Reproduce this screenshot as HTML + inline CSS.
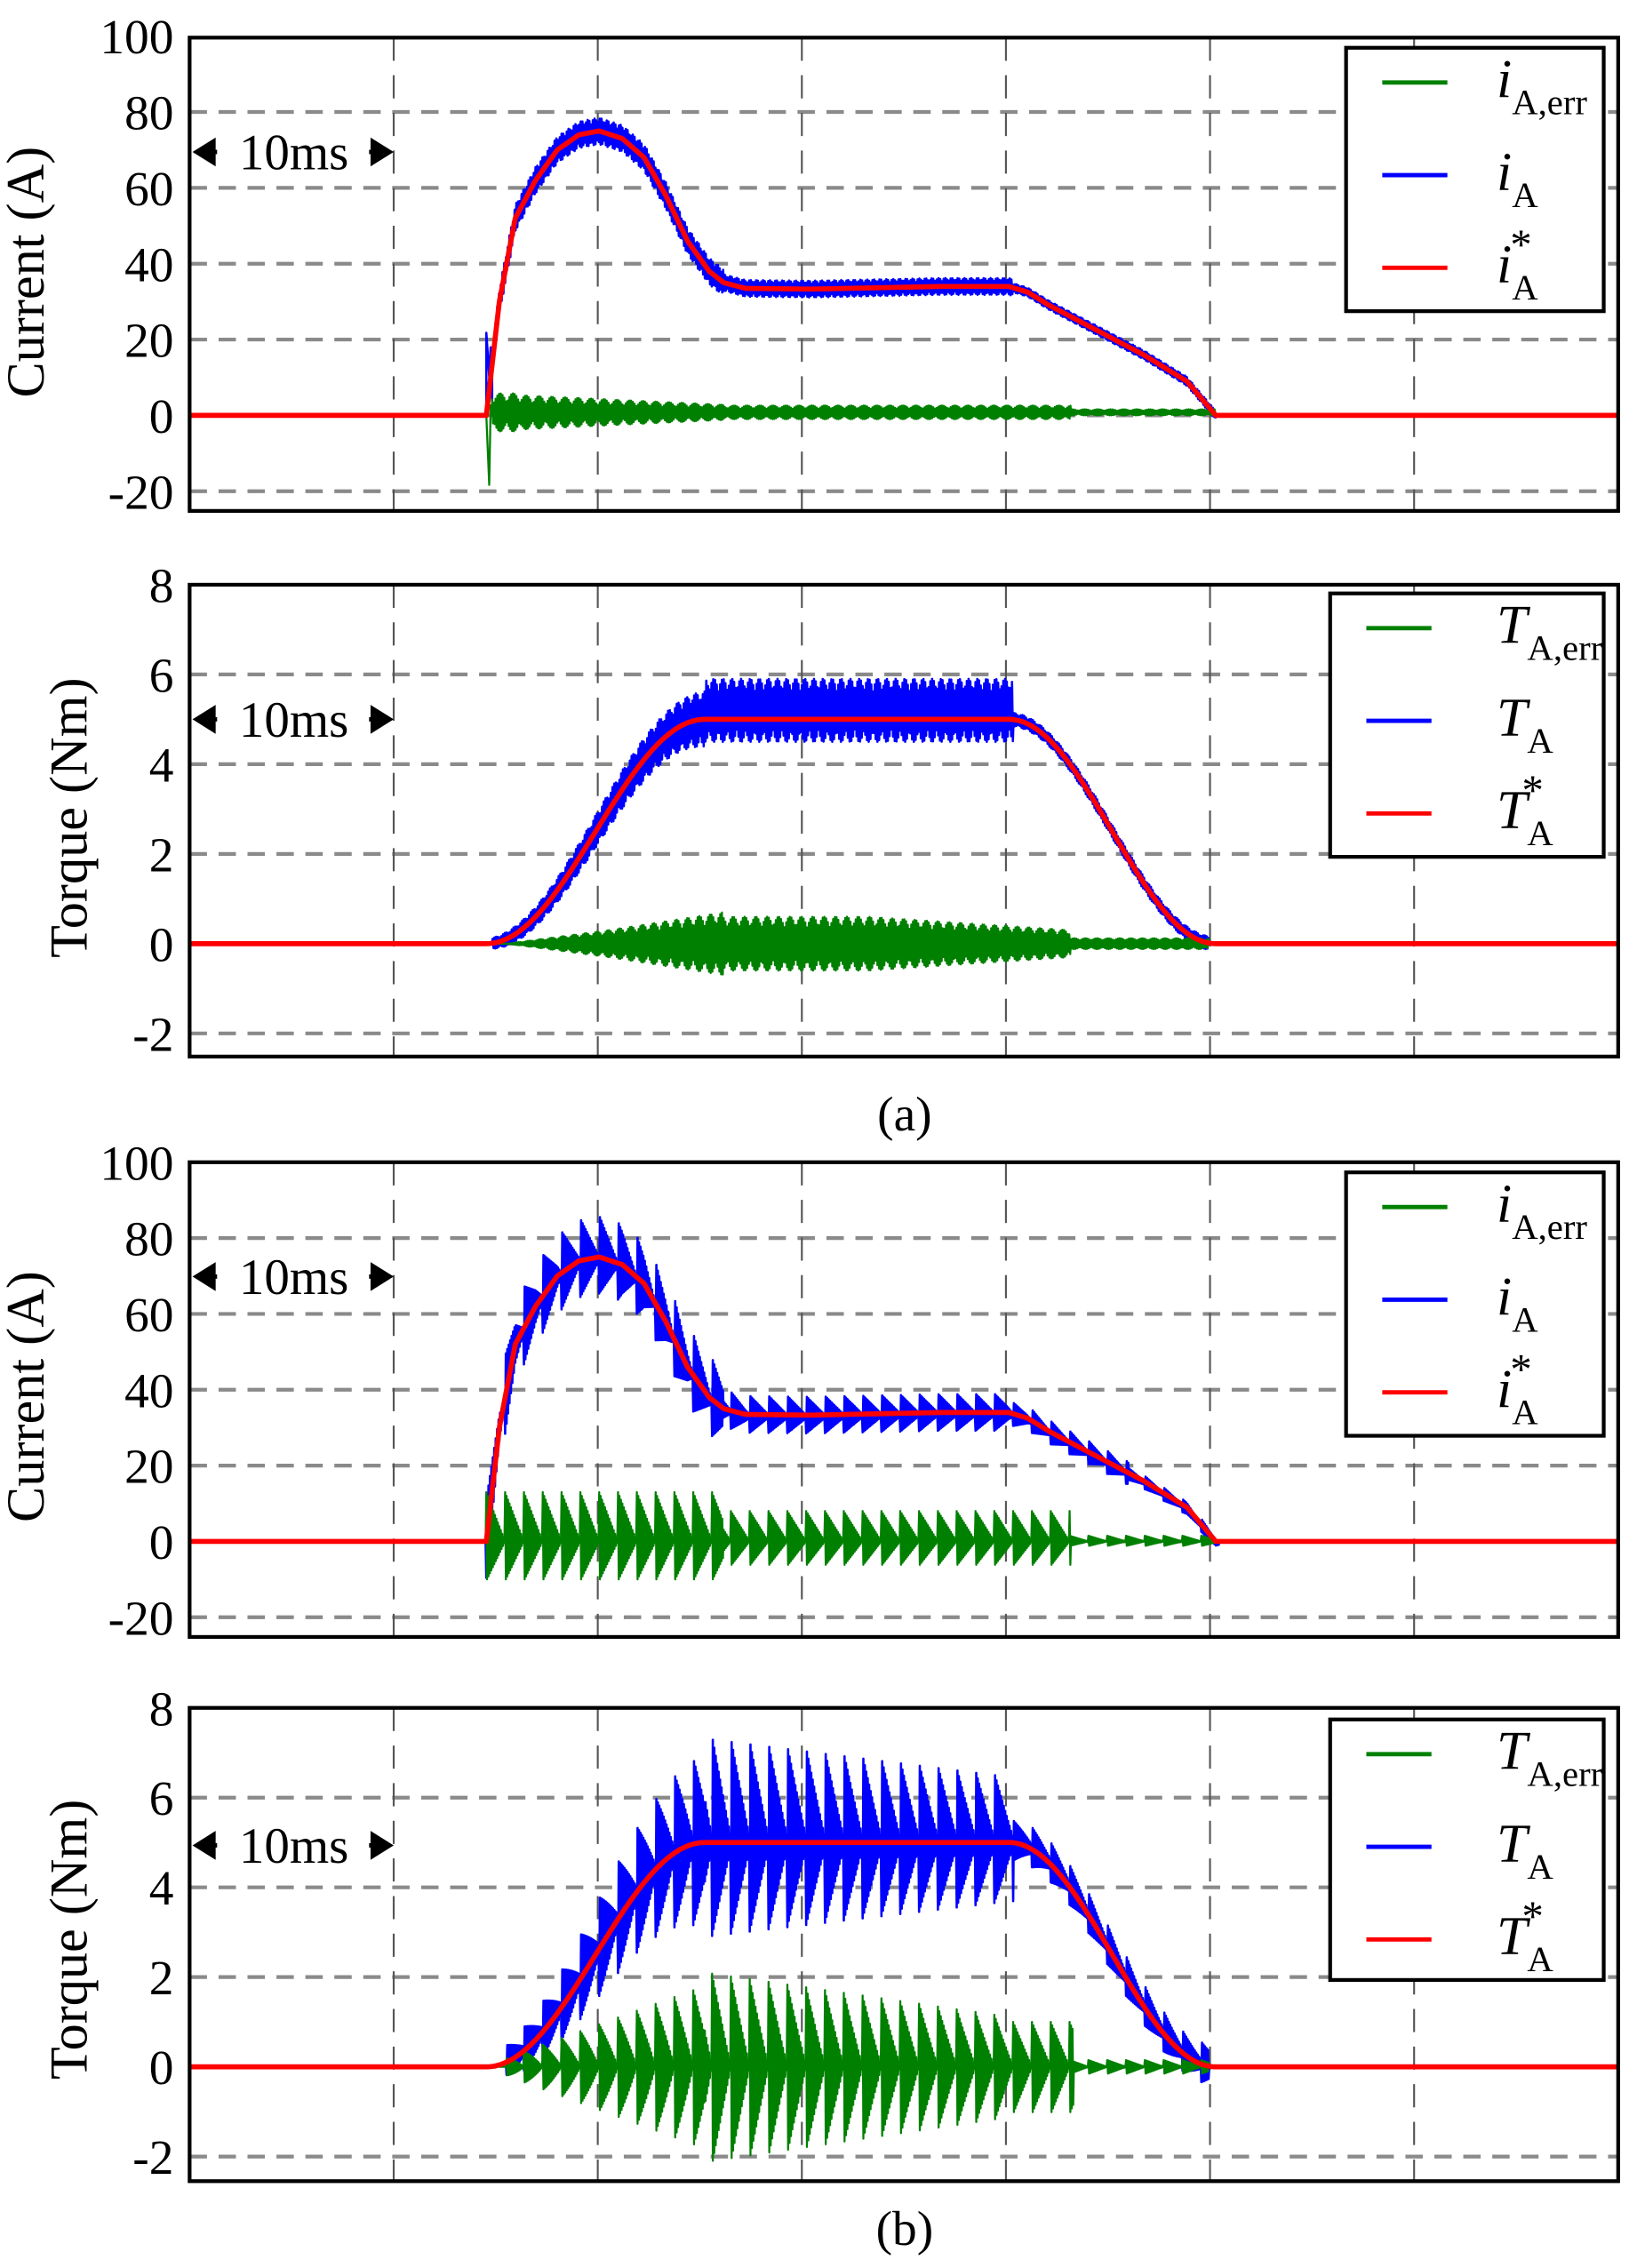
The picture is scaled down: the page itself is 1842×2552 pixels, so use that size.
<!DOCTYPE html>
<html><head><meta charset="utf-8"><style>
html,body{margin:0;padding:0;background:#fff;}
svg{display:block;}
text{font-family:"Liberation Serif",serif;fill:#000;}
</style></head><body>
<svg id="s" width="1842" height="2552" viewBox="0 0 1131 1567" preserveAspectRatio="none" xmlns="http://www.w3.org/2000/svg">
<rect width="1131" height="1567" fill="#fff"/>
<g id="g"></g>
</svg>
<script>
var NS="http://www.w3.org/2000/svg",G=document.getElementById('g');
function el(t,a,p){var e=document.createElementNS(NS,t);for(var k in a)e.setAttribute(k,a[k]);(p||G).appendChild(e);return e;}
function txt(s,a,p){var e=el('text',a,p);e.textContent=s;return e;}
var XL=131,XR=1118,GX=[272,413,554,695,836,977];
function interp(pts,x){if(x<=pts[0][0])return pts[0][1];for(var i=1;i<pts.length;i++){if(x<=pts[i][0]){var a=pts[i-1],b=pts[i],t=(x-a[0])/(b[0]-a[0]);return a[1]+(b[1]-a[1])*t;}}return pts[pts.length-1][1];}
var IP=[[336,0],[345,30],[356,52],[370,62],[385,70],[400,74],[414,75],[430,73],[445,68],[460,58],[475,46],[490,38],[500,35],[515,33.5],[560,33.3],[650,34],[697,34],[710,32.5],[725,29],[760,22],[790,16],[820,9],[840,0]];
function refI(x){return (x<336||x>840)?0:interp(IP,x);}
function refT(x){if(x<336||x>840)return 0;if(x<487){var t=(x-336)/151;return 2.5*(1-Math.cos(Math.PI*t));}if(x<=697)return 5;var t=(x-697)/143;return 2.5*(1+Math.cos(Math.PI*t));}
function frac(x,p){var f=((x-336)/p)%1;if(f<0)f+=1;return f;}
var K=0;
function alt(){K++;return (K%2)?1:-1;}
function pathOf(f,Y,x0,x1,st){var d='';for(var x=x0;x<=x1+1e-9;x+=st){d+=(d?'L':'M')+x.toFixed(2)+' '+Y(f(x)).toFixed(2);}return d;}
var cid=0;
function panel(top0,bot,Y,ticks,ylab,ylx,yly,arrowY,leg,sym,series){
  var id='c'+(cid++);
  var cp=el('clipPath',{id:id});el('rect',{x:XL,y:top0,width:XR-XL,height:bot-top0},cp);
  ticks.forEach(function(v){var y=Y(v);if(y>top0+3&&y<bot-3)el('line',{x1:XL,x2:XR,y1:y,y2:y,stroke:'#8a8a8a','stroke-width':2.6,'stroke-dasharray':'12 8'});
    txt(String(v),{x:120,y:y+12,'font-size':34,'text-anchor':'end'});});
  GX.forEach(function(x){el('line',{x1:x,x2:x,y1:top0,y2:bot,stroke:'#555','stroke-width':1.3,'stroke-dasharray':'16 10'});});
  var g=el('g',{'clip-path':'url(#'+id+')'});
  series.forEach(function(s){el('path',{d:s.d,fill:'none',stroke:s.c,'stroke-width':s.w,'stroke-linejoin':'round'},g);});
  el('rect',{x:XL,y:top0,width:XR-XL,height:bot-top0,fill:'none',stroke:'#000','stroke-width':2.6});
  txt(ylab,{x:ylx,y:yly,'font-size':37,'text-anchor':'middle',transform:'rotate(-90 '+ylx+' '+yly+')'});
  el('line',{x1:XL+8,x2:150,y1:arrowY,y2:arrowY,stroke:'#000','stroke-width':3});
  el('line',{x1:255,x2:264,y1:arrowY,y2:arrowY,stroke:'#000','stroke-width':3});
  el('path',{d:'M'+(XL+2)+' '+arrowY+'l16 -10v20z',fill:'#000'});
  el('path',{d:'M272 '+arrowY+'l-16 -10v20z',fill:'#000'});
  txt('10ms',{x:203,y:arrowY+12,'font-size':35,'text-anchor':'middle'});
  el('rect',{x:leg[0],y:leg[1],width:1108-leg[0],height:leg[2]-leg[1],fill:'#fff',stroke:'#000','stroke-width':2.6});
  var cols=['#008000','#0000ff','#ff0000'],subs=['A,err','A','A'];
  for(var i=0;i<3;i++){var ly=leg[1]+24+i*64;
    el('line',{x1:leg[0]+25,x2:leg[0]+70,y1:ly,y2:ly,stroke:cols[i],'stroke-width':3});
    var tx=1034;
    var te=txt('',{x:tx,y:ly+10,'font-size':38});
    var a=document.createElementNS(NS,'tspan');a.setAttribute('font-style','italic');a.textContent=sym;te.appendChild(a);
    var b=document.createElementNS(NS,'tspan');b.setAttribute('font-size','25');b.setAttribute('dy','12');b.textContent=subs[i];te.appendChild(b);
    if(i==2){txt('*',{x:tx+(sym=='i'?8:16),y:ly-6,'font-size':30,'font-style':'italic'});}
  }
}
var Y1=function(v){return 287-v*2.62},Y3=function(v){return 1065-v*2.62},Y2=function(v){return 652-31*v},Y4=function(v){return 1428-31*v};
function envGa(x){if(x<336||x>840)return 0;if(x<360)return 5;if(x<500)return 4.5-2.5*(x-360)/140;if(x<740)return 1.8;return 0.8;}
var p1=[
 {c:'#0000ff',w:1.6,d:'M336 287L336 230L338 260L339 240L340 277'+pathOf(function(x){var a=x<500?3.5:(x<700?2.2:1.2);return refI(x)+a*alt()*(0.6+0.4*Math.abs(Math.sin(x*0.7)));},Y1,340,840,0.6).replace('M','L')},
 {c:'#008000',w:1.4,d:'M336 287L338 335L339 280L340 287'+pathOf(function(x){return 0.8+envGa(x)*alt()*(0.5+0.5*Math.abs(Math.sin(x*0.35)));},Y1,340,840,0.6).replace('M','L')},
 {c:'#ff0000',w:3.5,d:pathOf(refI,Y1,131,1118,1)}
];
panel(26,353,Y1,[100,80,60,40,20,0,-20],'Current (A)',30,188,105,[930,33,215],'i',p1);
function envTa(x){if(x<350||x>835)return 0;if(x<420)return 0.3*(x-350)/70;if(x<500)return 0.3+0.4*(x-420)/80;if(x<600)return 0.6;if(x<740)return 0.6-0.3*(x-600)/140;return 0.12;}
var p2=[
 {c:'#0000ff',w:1.6,d:pathOf(function(x){var r=refT(x);if(x<340||x>835)return r;var a=x<487?0.12+0.5*(x-340)/147:(x<=700?0.7:0.15);var o=(x>487&&x<700)?0.2:0;return r+o+a*alt()*(0.6+0.4*Math.abs(Math.sin(x*0.5)));},Y2,131,1118,0.6)},
 {c:'#008000',w:1.4,d:pathOf(function(x){return envTa(x)*alt()*(0.6+0.4*Math.abs(Math.sin(x*0.4)));},Y2,131,1118,0.6)},
 {c:'#ff0000',w:3.5,d:pathOf(refT,Y2,131,1118,1)}
];
panel(404,730,Y2,[8,6,4,2,0,-2],'Torque (Nm)',60,565,497,[919,410,592],'T',p2);
txt('(a)',{x:625,y:781,'font-size':34,'text-anchor':'middle'});
// Panel 3: filled sawtooth teeth
var p3=[
 {c:'#0000ff',w:1.6,d:pathOf(function(x){if(x<336||x>842)return refI(x);var a=x<500?11:(x<700?5:(x<780?3:1.5));var f=frac(x,13);var s=alt();return refI(x)+(s>0?a*(1-f):-a*0.8*(1-f)-0.8);},Y3,131,1118,0.5)},
 {c:'#008000',w:1.4,d:pathOf(function(x){if(x<336||x>842)return 0;var a=x<500?13:(x<740?8:1.5);var f=frac(x,13);var s=alt();return s>0?a*(1-f):-a*0.8*(1-f);},Y3,131,1118,0.5)},
 {c:'#ff0000',w:3.5,d:pathOf(refI,Y3,131,1118,1)}
];
panel(803,1131,Y3,[100,80,60,40,20,0,-20],'Current (A)',30,965,882,[930,810,992],'i',p3);
var p4=[
 {c:'#0000ff',w:1.6,d:pathOf(function(x){var r=refT(x);if(x<350||x>835)return r;var up,dn;if(x<487){var k=(x-350)/137;up=0.3+1.6*k;dn=0.2+1.6*k;}else if(x<=700){var k=(x-487)/213;up=2.3-0.9*k;dn=2.0-0.8*k;}else{up=0.4;dn=0.3;}var f=frac(x,13);var s=alt();return r+(s>0?up*(1-f)+0.1:-dn*(1-f)-0.1);},Y4,131,1118,0.5)},
 {c:'#008000',w:1.4,d:pathOf(function(x){if(x<350||x>835)return 0;var a;if(x<487)a=0.2+1.6*(x-350)/137;else if(x<700)a=2.1-1.0*(x-487)/213;else if(x<742)a=1;else a=0.15;var f=frac(x,13);var s=alt();return s>0?a*(1-f):-a*1.05*(1-f);},Y4,131,1118,0.5)},
 {c:'#ff0000',w:3.5,d:pathOf(refT,Y4,131,1118,1)}
];
panel(1180,1507,Y4,[8,6,4,2,0,-2],'Torque (Nm)',60,1340,1275,[919,1188,1368],'T',p4);
txt('(b)',{x:625,y:1551,'font-size':34,'text-anchor':'middle'});
</script>
</body></html>
